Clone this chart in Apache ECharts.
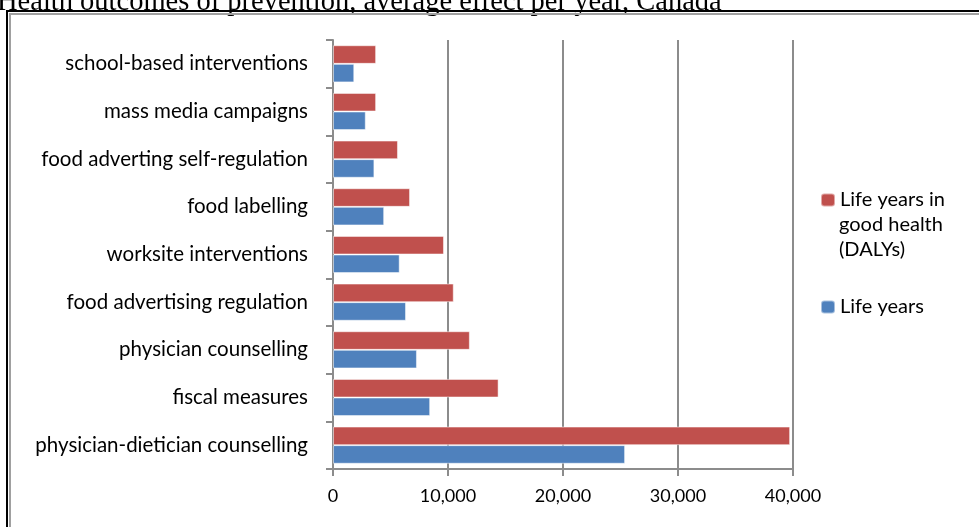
<!DOCTYPE html>
<html>
<head>
<meta charset="utf-8">
<script src="https://cdn.jsdelivr.net/npm/echarts@6/dist/echarts.min.js"></script>
<style>
  html, body { margin: 0; padding: 0; background: #fff; }
  #main { width: 979px; height: 527px; }
</style>
</head>
<body>
<div id="main"></div>
<script>
// categories, bottom to top as drawn by the category axis
const categories = [
    'physician-dietician counselling',
    'fiscal measures',
    'physician counselling',
    'food advertising regulation',
    'worksite interventions',
    'food labelling',
    'food adverting self-regulation',
    'mass media campaigns',
    'school-based interventions'
];
const lifeYears = [25400, 8450, 7300, 6350, 5800, 4450, 3600, 2850, 1850];
const dalys = [39750, 14400, 11900, 10500, 9650, 6700, 5650, 3750, 3750];
const xTicks = [0, 10000, 20000, 30000, 40000];

const chart = echarts.init(document.getElementById('main'));
const labelFont = 'Lato';

const option = {
    animation: false,
    grid: { left: 333, right: 186, top: 40, bottom: 58 },
    legend: [
        {
            data: ['Life years in good health (DALYs)'],
            orient: 'vertical',
            left: 815, top: 185,
            itemWidth: 14, itemHeight: 13,
            formatter: () => 'Life years in',
            textStyle: { fontFamily: labelFont, fontSize: 20, color: '#000' }
        },
        {
            data: ['Life years'],
            orient: 'vertical',
            left: 815, top: 292,
            itemWidth: 14, itemHeight: 13,
            textStyle: { fontFamily: labelFont, fontSize: 20, color: '#000' }
        }
    ],
    xAxis: {
        type: 'value',
        min: 0, max: 40000, interval: 10000,
        axisLine: { show: true, lineStyle: { color: '#8c8c8c', width: 2 } },
        axisTick: { show: true, length: 7, lineStyle: { color: '#8c8c8c', width: 2 } },
        splitLine: { show: true, lineStyle: { color: '#8c8c8c', width: 2 } },
        axisLabel: {
            margin: 18,
            fontFamily: labelFont, fontSize: 18, color: '#000',
            formatter: v => xTicks.includes(v) ? v.toLocaleString('en-US') : ''
        }
    },
    yAxis: {
        type: 'category',
        data: categories,
        axisLine: { show: true, lineStyle: { color: '#8c8c8c', width: 2 } },
        axisTick: { show: true, length: 7, lineStyle: { color: '#8c8c8c', width: 2 } },
        axisLabel: { margin: 25, fontFamily: labelFont, fontSize: 20.5, color: '#000' }
    },
    series: [
        {
            name: 'Life years in good health (DALYs)',
            type: 'bar',
            data: dalys,
            barGap: '0%',
            barCategoryGap: '22%',
            itemStyle: { color: '#c0504d', borderColor: 'rgba(255,255,255,0.5)', borderWidth: 1 }
        },
        {
            name: 'Life years',
            type: 'bar',
            data: lifeYears,
            barGap: '0%',
            barCategoryGap: '22%',
            itemStyle: { color: '#4f81bd', borderColor: 'rgba(255,255,255,0.5)', borderWidth: 1 }
        }
    ],
    graphic: [
        {
            type: 'text', left: 839, top: 212,
            style: { text: 'good health\n(DALYs)', font: '20px ' + labelFont, fill: '#000', lineHeight: 25 }
        },
        {
            type: 'text', left: -3, top: -12,
            style: { text: 'Health outcomes of prevention, average effect per year, Canada', font: '28.5px "Liberation Serif"', fill: '#000' }
        },
        {
            type: 'rect', silent: true,
            shape: { x: 7, y: 11, width: 1200, height: 1200 },
            style: { fill: 'none', stroke: '#000', lineWidth: 2 }
        },
        {
            type: 'rect', silent: true,
            shape: { x: 10, y: 14, width: 1200, height: 1200 },
            style: { fill: 'none', stroke: '#a0a0a0', lineWidth: 2 }
        }
    ]
};

chart.setOption(option);

window.addEventListener('resize', function () {
    chart.resize();
});
</script>
</body>
</html>
